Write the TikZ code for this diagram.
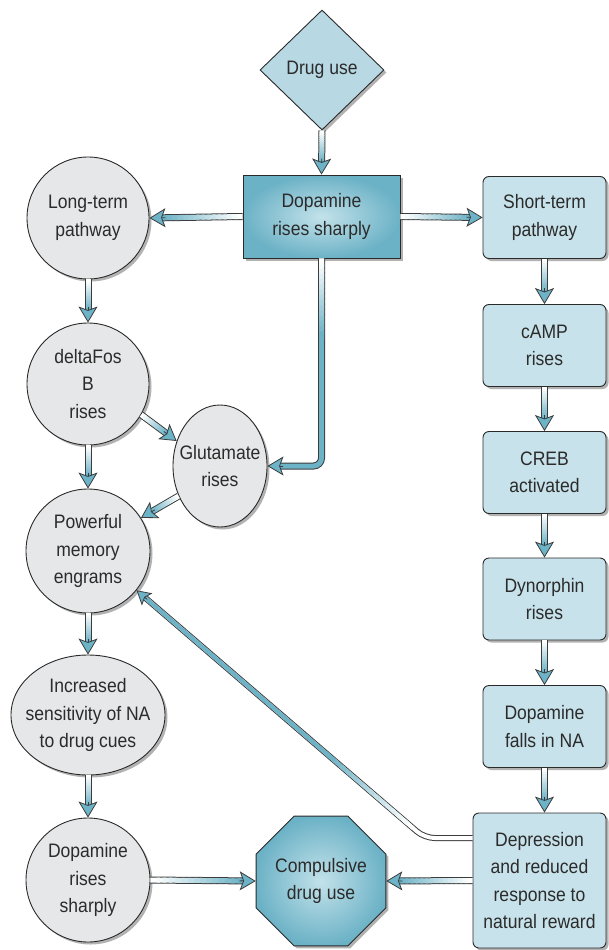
\documentclass[tikz,border=0pt]{standalone}
\usepackage{fontspec}
\setmainfont{Liberation Sans}[FakeStretch=0.9]
\usetikzlibrary{shapes.geometric,shadows,calc,arrows.meta}
\definecolor{txt}{HTML}{2B2B2B}
\definecolor{edge}{HTML}{2A2A2A}
\definecolor{arrfill}{HTML}{6DB3C7}
\definecolor{arredge}{HTML}{3C3C3C}
\definecolor{circfill}{HTML}{E6E7E8}
\definecolor{boxfill}{HTML}{C7E2EA}
\definecolor{tealout}{HTML}{6CB2C6}
\definecolor{tealin}{HTML}{C3E2EA}
\definecolor{diafill}{HTML}{B8D9E3}
\tikzset{
  base/.style={draw=edge, line width=0.9pt, text=txt,
    font=\fontsize{19.5}{27.5}\selectfont, align=center, inner sep=0pt,
    drop shadow={shadow xshift=2.5pt, shadow yshift=-2.5pt, opacity=0.3, fill=black}},
  bubble/.style={base, circle, fill=circfill, minimum size=#1},
  oval/.style={base, ellipse, fill=circfill},
  rbox/.style={base, rectangle, rounded corners=6pt, fill=boxfill,
    minimum width=123pt, minimum height=82pt},
  labeltext/.style={text=txt, font=\fontsize{19.5}{27.5}\selectfont, align=center, inner sep=0pt},
  headbig/.style={arredge, line width=0.8pt, -{Stealth[length=16pt,width=19pt,inset=3.5pt,fill=arrfill]}},
  headsmall/.style={arredge, line width=0.8pt, -{Stealth[length=14pt,width=16pt,inset=3pt,fill=arrfill]}},
}
% straight arrow with gradient shaft
\newcommand\sarrow[2]{%
  \coordinate (s) at (#1);
  \coordinate (e) at (#2);
  \coordinate (m) at ($(e)!12pt!(s)$);
  \draw[arredge, line width=7pt] (s) -- (m);
  \foreach \i [evaluate=\i as \p using {int(\i*100/14)}] in {0,...,14}
    \draw[arrfill!\p!white, line width=5pt] ($(s)!\i/15!(m)$) -- ($(s)!{min(1,\i/15+0.1)}!(m)$);
  \draw[headbig] ($(e)!16pt!(s)$) -- (e);
}
\begin{document}
\begin{tikzpicture}[x=1pt,y=-1pt]
\useasboundingbox (0,0) rectangle (609,950);

% ---- nodes ----
\node[base, diamond, aspect=1, minimum width=124pt, minimum height=120pt,
      fill=diafill] (drug) at (322,70) {Drug use};
\node[base, rectangle, minimum width=157pt, minimum height=83pt,
      inner color=tealin, outer color=tealout] (dop) at (321.5,216.5) {Dopamine\\rises sharply};

\node[bubble=122pt] (lt) at (88,218) {Long-term\\pathway};
\node[bubble=122pt] (dfb) at (88,384) {deltaFos\\B\\rises};
\node[oval, minimum width=94pt, minimum height=122pt] (glu) at (220,466) {};
\node[labeltext] (glut) at (glu) {Glutamate\\rises};
\node[bubble=124pt] (mem) at (88,551) {Powerful\\memory\\engrams};
\node[oval, minimum width=154pt, minimum height=120pt] (inc) at (88,715) {};
\node[labeltext] (inct) at (inc) {Increased\\sensitivity of NA\\to drug cues};
\node[bubble=124pt] (dop2) at (88,880) {Dopamine\\rises\\sharply};

\node[base, regular polygon, regular polygon sides=8, minimum size=133pt,
      inner color=tealin, outer color=tealout] (oct) at (321,881) {Compulsive\\drug use};

\node[rbox] (st) at (544.5,217.5) {Short-term\\pathway};
\node[rbox] (camp) at (544.5,345.5) {cAMP\\rises};
\node[rbox] (creb) at (544.5,472.5) {CREB\\activated};
\node[rbox] (dyn) at (544.5,599) {Dynorphin\\rises};
\node[rbox] (dfall) at (544.5,726.5) {Dopamine\\falls in NA};
\node[rbox, minimum width=133pt, minimum height=135pt] (dep) at (539.5,880.5)
      {Depression\\and reduced\\response to\\natural reward};

% ---- straight arrows ----
\sarrow{drug.south}{dop.north}
\sarrow{dop.west}{lt.east}
\sarrow{dop.east}{st.west}
\sarrow{lt.south}{dfb.north}
\sarrow{dfb.-30}{glu.150}
\sarrow{glu.216}{mem.32}
\sarrow{dfb.south}{mem.north}
\sarrow{mem.south}{inc.north}
\sarrow{inc.south}{dop2.north}
\sarrow{dop2.east}{oct.west}
\sarrow{dep.west}{oct.east}
\sarrow{st.south}{camp.north}
\sarrow{camp.south}{creb.north}
\sarrow{creb.south}{dyn.north}
\sarrow{dyn.south}{dfall.north}
\sarrow{dfall.south}{dfall.south |- dep.north}

% ---- bent arrow: dopamine box -> glutamate ----
\coordinate (b1) at (dop.south);
\coordinate (b2) at (dop.south |- glu.east);
\coordinate (b3) at (glu.east);
\coordinate (b3m) at ($(b3)!12pt!(b2)$);
\draw[arredge, line width=7pt, rounded corners=8pt] (b1) -- (b2) -- (b3m);
\draw[arrfill, line width=5pt, rounded corners=8pt] (b1) -- (b2) -- (b3m);
\foreach \i [evaluate=\i as \p using {int(\i*100/14)}] in {0,...,14}
  \draw[arrfill!\p!white, line width=5pt] ($(b1)!\i*0.025!(b2)$) -- ($(b1)!\i*0.025+0.04!(b2)$);
\draw[headbig] ($(b3)!16pt!(b2)$) -- (b3);

% ---- bent arrow: depression -> memory engrams ----
\coordinate (d1) at ([yshift=42.5pt]dep.west);
\coordinate (d2) at ([yshift=42.5pt, xshift=-48pt]dep.west);
\coordinate (d3) at (mem.-39);
\coordinate (d3m) at ($(d3)!10pt!(d2)$);
\draw[arredge, line width=6pt, rounded corners=10pt] (d1) -- (d2) -- (d3m);
\draw[white, line width=4pt, rounded corners=10pt] (d1) -- (d2) -- (d3m);
\foreach \i [evaluate=\i as \p using {int(\i*100/14)}] in {0,...,14}
  \draw[arrfill!\p!white, line width=4pt] ($(d2)!0.04+\i*0.02!(d3m)$) -- ($(d2)!0.04+\i*0.02+0.035!(d3m)$);
\draw[arrfill, line width=4pt] ($(d2)!0.33!(d3m)$) -- (d3m);
\draw[headsmall] ($(d3)!14pt!(d2)$) -- (d3);
\end{tikzpicture}
\end{document}
